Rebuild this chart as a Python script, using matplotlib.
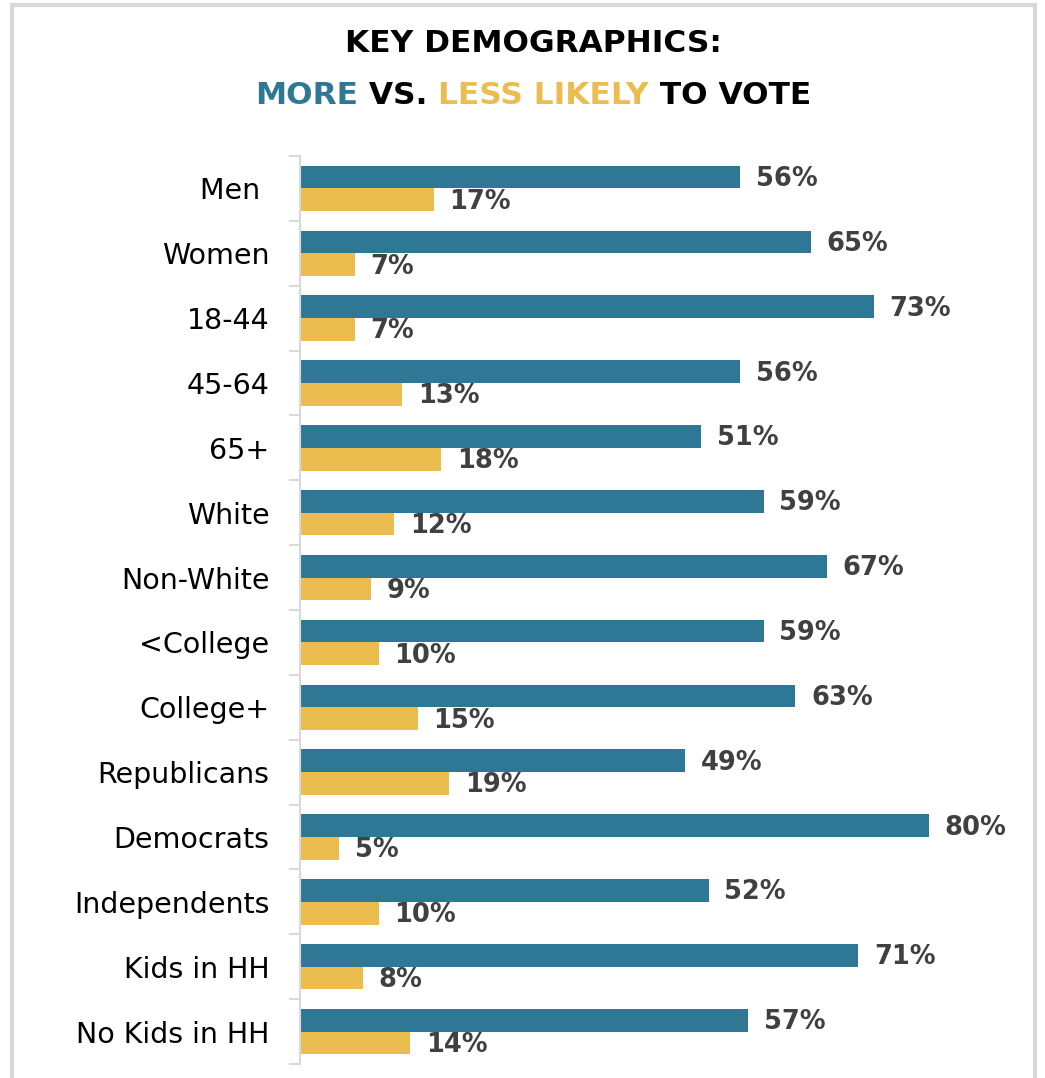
import matplotlib
matplotlib.use("Agg")
import matplotlib.pyplot as plt
from matplotlib.patches import Rectangle
import numpy as np

groups = ["Men ", "Women", "18-44", "45-64", "65+", "White", "Non-White",
          "<College", "College+", "Republicans", "Democrats", "Independents",
          "Kids in HH", "No Kids in HH"]
more_likely = [56, 65, 73, 56, 51, 59, 67, 59, 63, 49, 80, 52, 71, 57]
less_likely = [17, 7, 7, 13, 18, 12, 9, 10, 15, 19, 5, 10, 8, 14]

BLUE = "#2E7896"
GOLD = "#EBBD4E"
GREY = "#D9D9D9"
TXT = "#404040"

W, H = 1045, 1078
fig = plt.figure(figsize=(W / 100, H / 100), dpi=100)

# outer frame
fig.patches.append(Rectangle((12 / W, -0.05), (1035 - 12) / W, 1.05 - 5 / H,
                             transform=fig.transFigure, fill=False,
                             edgecolor=GREY, linewidth=3))

ax = fig.add_axes([300 / W, 1 - 1064 / H, 700 / W, (1064 - 156) / H])

y = np.arange(len(groups))
h = 0.35
ax.barh(y - h / 2, more_likely, height=h, color=BLUE)
ax.barh(y + h / 2, less_likely, height=h, color=GOLD)

for yi, v in zip(y, more_likely):
    ax.text(v + 2.0, yi - h / 2 + 0.03, f"{v}%", va="center", ha="left",
            fontsize=18.5, fontweight="bold", color=TXT)
for yi, v in zip(y, less_likely):
    ax.text(v + 2.0, yi + h / 2 + 0.03, f"{v}%", va="center", ha="left",
            fontsize=18.5, fontweight="bold", color=TXT)

ax.set_xlim(0, 700 / 7.86)
ax.set_ylim(len(groups) - 0.5, -0.5)
ax.set_xticks([])
ax.set_yticks(y)
ax.set_yticklabels(groups, fontsize=20.5, color="black")
ax.tick_params(axis="y", which="major", length=0, pad=22)
ax.set_yticks(np.arange(-0.5, len(groups)), minor=True)
ax.tick_params(axis="y", which="minor", length=8, width=1.5, color=GREY)
for side in ["top", "right", "bottom"]:
    ax.spines[side].set_visible(False)
ax.spines["left"].set_color(GREY)
ax.spines["left"].set_linewidth(1.5)

# two-line title, second line in three colours
fig.text(533 / W, 1 - 44 / H, "KEY DEMOGRAPHICS:", ha="center", va="center",
         fontsize=22.5, fontweight="bold", color="black")
parts = [("MORE", BLUE), (" VS. ", "black"), ("LESS LIKELY", GOLD), (" TO VOTE", "black")]
renderer = fig.canvas.get_renderer()
texts = []
for s, c in parts:
    t = fig.text(0, 1 - 95 / H, s, ha="left", va="center", fontsize=22.5,
                 fontweight="bold", color=c)
    texts.append(t)
widths = [t.get_window_extent(renderer).width for t in texts]
x = 533 - sum(widths) / 2
for t, wd in zip(texts, widths):
    t.set_x(x / W)
    x += wd

fig.savefig("out.png", dpi=100, facecolor="white")
